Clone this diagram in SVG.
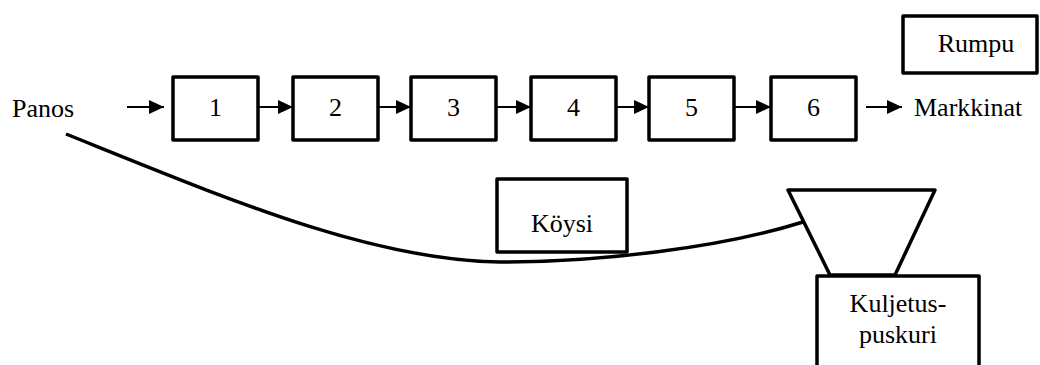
<svg xmlns="http://www.w3.org/2000/svg" width="1040" height="365" viewBox="0 0 1040 365">
  <style>
    .box { fill: #fff; stroke: #000; stroke-width: 3.5; stroke-linejoin: round; }
    text { font-family: "Liberation Serif", "DejaVu Serif", "Noto Serif", serif; font-size: 26px; fill: #000; }
    .mid { text-anchor: middle; }
    .flow { stroke: #000; stroke-width: 2; fill: none; marker-end: url(#head); }
    .rope { stroke: #000; stroke-width: 3.5; fill: none; stroke-linecap: butt; }
  </style>
  <defs>
    <marker id="head" viewBox="0 0 15 14" refX="15" refY="7" markerWidth="15" markerHeight="14" markerUnits="userSpaceOnUse" orient="auto">
      <path d="M0,0 L15,7 L0,14 Z" fill="#000"/>
    </marker>
  </defs>

  <rect width="1040" height="365" fill="#fff"/>

  <!-- input / output labels -->
  <text id="panos" x="12" y="117">Panos</text>
  <text id="markkinat" x="914" y="116">Markkinat</text>

  <!-- process steps -->
  <g id="step1"><rect class="box" x="173" y="77" width="85" height="63"/><text class="mid" x="215.5" y="116">1</text></g>
  <g id="step2"><rect class="box" x="293" y="77" width="85" height="63"/><text class="mid" x="335.5" y="116">2</text></g>
  <g id="step3"><rect class="box" x="411" y="77" width="85" height="63"/><text class="mid" x="453.5" y="116">3</text></g>
  <g id="step4"><rect class="box" x="531" y="77" width="85" height="63"/><text class="mid" x="573.5" y="116">4</text></g>
  <g id="step5"><rect class="box" x="649" y="77" width="85" height="63"/><text class="mid" x="691.5" y="116">5</text></g>
  <g id="step6"><rect class="box" x="771" y="77" width="85" height="63"/><text class="mid" x="813.5" y="116">6</text></g>

  <!-- drum -->
  <g id="rumpu"><rect class="box" x="903" y="16" width="134" height="57"/><text class="mid" x="976" y="52">Rumpu</text></g>

  <!-- rope -->
  <g id="koysi"><rect class="box" x="497" y="179" width="130" height="73"/><text class="mid" x="562" y="232">Köysi</text></g>

  <!-- hopper -->
  <g id="suppilo"><path class="box" d="M788,190 L935,190 L895,275 L830,275 Z"/></g>

  <!-- buffer conveyor -->
  <g id="kuljetuspuskuri">
    <path class="box" d="M817,367 L817,276 L979,276 L979,367"/>
    <text class="mid" x="898" y="312">Kuljetus-</text>
    <text class="mid" x="898" y="343">puskuri</text>
  </g>

  <!-- connectors -->
  <g id="connectors">
    <line class="flow" x1="127" y1="107" x2="164" y2="107"/>
    <line class="flow" x1="258" y1="107" x2="293" y2="107"/>
    <line class="flow" x1="378" y1="107" x2="411" y2="107"/>
    <line class="flow" x1="496" y1="107" x2="531" y2="107"/>
    <line class="flow" x1="616" y1="107" x2="649" y2="107"/>
    <line class="flow" x1="734" y1="107" x2="771" y2="107"/>
    <line class="flow" x1="866" y1="107" x2="902" y2="107"/>
    <path class="rope" d="M66,134 C230,200 370,260 500,262 C600,262 720,248 803,222"/>
  </g>
</svg>
